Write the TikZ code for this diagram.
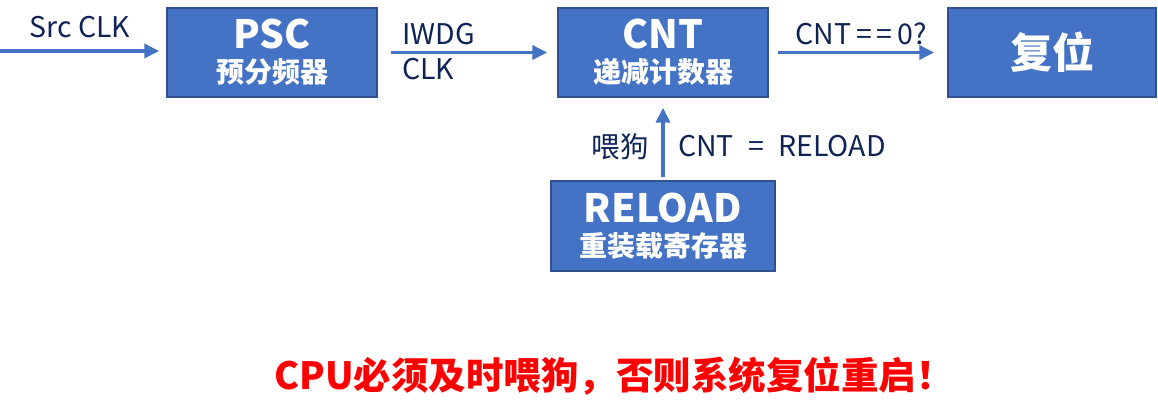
\documentclass[tikz,border=0pt]{standalone}
\usepackage{fontspec}
\setmainfont{Noto Sans CJK SC}
\usetikzlibrary{arrows.meta}
\definecolor{boxBlue}{HTML}{4472C4}
\definecolor{boxEdge}{HTML}{2F528F}
\definecolor{penColor}{HTML}{0F2455}
\definecolor{warnRed}{HTML}{FF0000}
\tikzset{
  unit/.style={draw=boxEdge,line width=1.5pt,fill=boxBlue,text=white,
    minimum width=210pt,minimum height=89pt,align=center,inner sep=0pt,
    font=\bfseries\fontsize{28}{32}\selectfont},
  flow/.style={draw=boxBlue,line width=3.5pt,-{Triangle[length=15pt,width=14pt]}},
  lbl/.style={text=penColor,inner sep=0pt,font=\fontsize{28.5}{32}\selectfont}
}
\newcommand{\unittitle}[1]{{\fontsize{39}{42}\selectfont #1}}
\begin{document}
\begin{tikzpicture}[x=1pt,y=-1pt]
\useasboundingbox (0,0) rectangle (1158,417);
% blocks
\node[unit] (psc) at (272,52.5) {\unittitle{PSC}\\[2pt]预分频器};
\node[unit] (cnt) at (663,52.5) {\unittitle{CNT}\\[2pt]递减计数器};
\node[unit,minimum width=208pt] (rst) at (1052,52.5) {\fontsize{42}{46}\selectfont 复位};
\node[unit,minimum width=224pt,minimum height=90pt] (reload) at (663,226) {\unittitle{RELOAD}\\[2pt]重装载寄存器};
% connectors
\coordinate (src) at (0,51);
\draw[flow,shorten >=7pt] (src) -- (src -| psc.west);
\draw[flow,shorten <=13pt,shorten >=10pt] (psc) -- (cnt);
\draw[flow,shorten <=9pt,shorten >=13pt] (cnt) -- (rst);
\draw[flow,shorten <=3pt,shorten >=10pt] (reload.north) -- (reload.north |- cnt.south);
% labels
\node[lbl] (srclbl) at (80,27) {Src CLK};
\node[lbl,anchor=west] (iwdg) at (402,34) {IWDG};
\node[lbl,anchor=west] (clk) at (402,69) {CLK};
\node[lbl] (zero) at (861,34) {CNT\,=\,=\,0?};
\node[lbl] (feed) at (620,147) {喂狗};
\node[lbl,anchor=west] (set) at (678,146) {CNT\enspace=\enspace RELOAD};
\node[text=warnRed,font=\bfseries\fontsize{37.5}{40}\selectfont] (warn) at (614,376) {CPU必须及时喂狗，否则系统复位重启！};
\end{tikzpicture}
\end{document}
